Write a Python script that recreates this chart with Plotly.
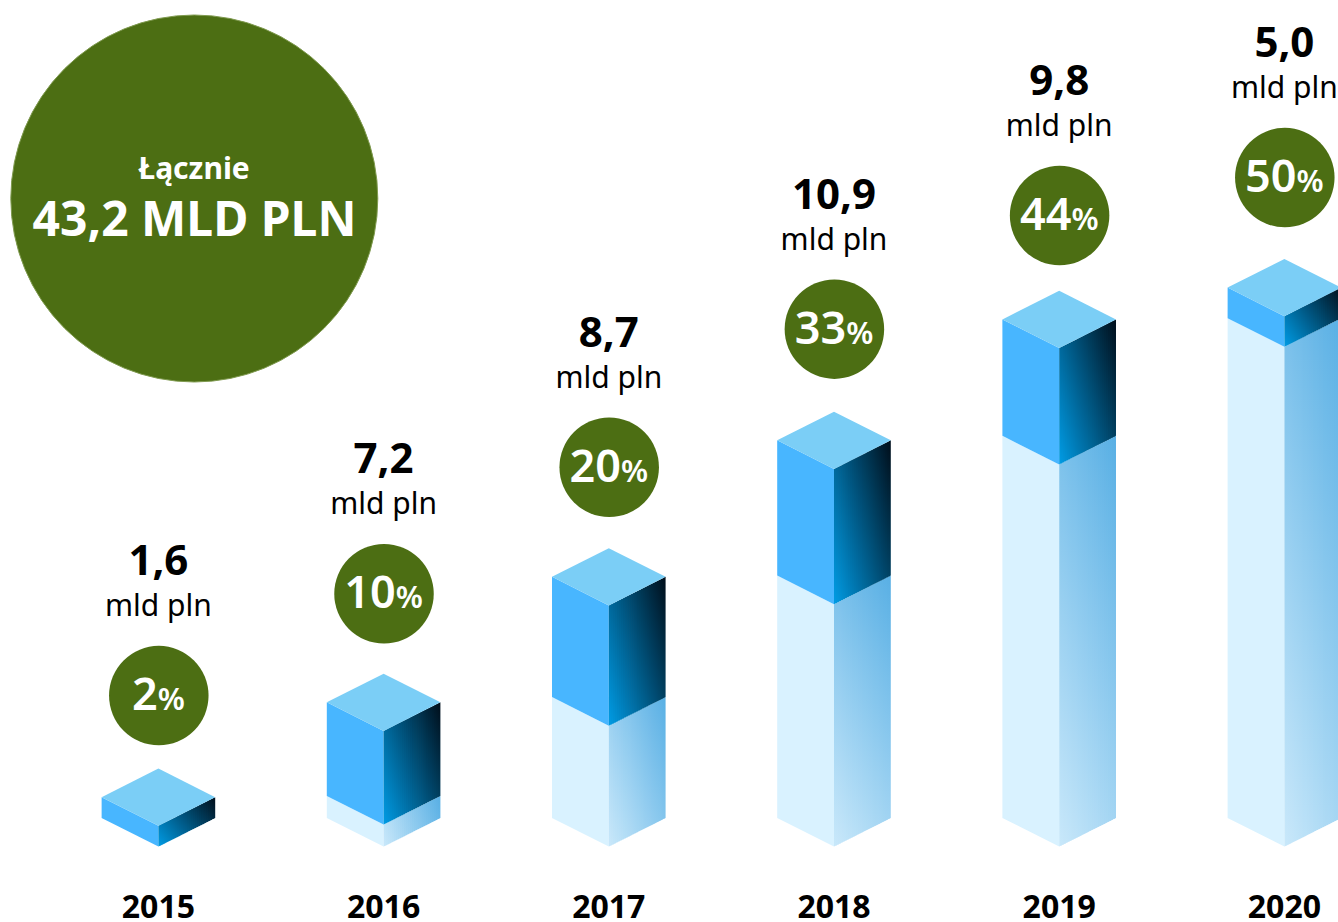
import plotly.graph_objects as go

# ---- data ----
years = [2015, 2016, 2017, 2018, 2019, 2020]
amount_labels = ["1,6", "7,2", "8,7", "10,9", "9,8", "5,0"]
share_labels = ["2", "10", "20", "33", "44", "50"]
unit_label = "mld pln"
total_title = "Łącznie"
total_label = "43,2 MLD PLN"
# drawn segment limits (in bar-height units)
bar_base = [0.0, 1.7, 9.3, 18.65, 29.4, 38.45]
bar_top = [1.6, 8.9, 18.55, 29.05, 38.35, 40.8]

# ---- layout constants ----
W, H = 1338, 922
PX_PER_YEAR = 225.2
PX_PER_UNIT = 13.0
X0_PX, FLOOR_PX = 158.4, 846.6
HALF_W = 56.8 / PX_PER_YEAR
DEPTH = 28.6 / PX_PER_UNIT
BUBBLE_LIFT_PX = [73, 80, 81, 82.6, 75.3, 81.4]
FONT = "Noto Sans"
GREEN = "#4C6E13"


def data_x(px):
    return years[0] + (px - X0_PX) / PX_PER_YEAR


def data_y(py):
    return (FLOOR_PX - py) / PX_PER_UNIT


def mix(a, b, t):
    t = max(0, min(1, t))
    return "rgb(%d,%d,%d)" % tuple(round(a[i] + (b[i] - a[i]) * t) for i in range(3))


fig = go.Figure()


def poly(xs, ys, color):
    fig.add_trace(go.Scatter(x=xs + xs[:1], y=ys + ys[:1], mode="lines", fill="toself",
                             fillcolor=color, line=dict(width=0, color=color),
                             hoverinfo="skip", showlegend=False))


def right_face(x, lo, hi, c0, c1, a=0.58, n=28):
    """Diagonal gradient built from narrow strips with a vertical gradient each."""
    y_min, y_max = lo, hi + DEPTH
    for i in range(n):
        u0 = i / n
        u1 = (i + 1) / n
        um = (u0 + u1) / 2
        ext = min(1, u1 + 0.4 / n)
        xa = x + HALF_W * u0
        xb = x + HALF_W * ext
        ca = mix(c0, c1, a * um)
        cb = mix(c0, c1, a * um + (1 - a))
        fig.add_trace(go.Scatter(
            x=[xa, xb, xb, xa, xa],
            y=[lo + DEPTH * u0, lo + DEPTH * ext, hi + DEPTH * ext, hi + DEPTH * u0, lo + DEPTH * u0],
            mode="lines", fill="toself", line=dict(width=0),
            fillgradient=dict(type="vertical", start=y_min, stop=y_max,
                              colorscale=[[0, ca], [1, cb]]),
            hoverinfo="skip", showlegend=False))


for i, yr in enumerate(years):
    base, top = bar_base[i], bar_top[i]
    xl, xr = yr - HALF_W, yr + HALF_W
    if base > 0:
        poly([xl, yr, yr, xl], [DEPTH, 0, base, base + DEPTH], "#D9F2FF")
        lean = max(0.3, 0.85 - base * PX_PER_UNIT / 400)
        right_face(yr, 0, base, (201, 232, 250), (88, 175, 228), a=lean)
    poly([xl, yr, yr, xl], [base + DEPTH, base, top, top + DEPTH], "#48B6FF")
    right_face(yr, base, top, (0, 155, 228), (0, 14, 26))
    poly([xl, yr, xr, yr], [top + DEPTH, top, top + DEPTH, top + 2 * DEPTH], "#7BCEF6")

# bubbles above each bar
bubble_y = [bar_top[i] + 2 * DEPTH + BUBBLE_LIFT_PX[i] / PX_PER_UNIT for i in range(len(years))]
fig.add_trace(go.Scatter(x=[y + 0.4 / PX_PER_YEAR for y in years], y=bubble_y, mode="markers",
                         marker=dict(size=99.5, color=GREEN, line=dict(width=0)),
                         hoverinfo="skip", showlegend=False))


def text(xs, ys, labels, size, color, weight=400):
    fig.add_trace(go.Scatter(x=xs, y=ys, mode="text", text=labels, textposition="middle center",
                             textfont=dict(family=FONT, size=size, color=color, weight=weight),
                             cliponaxis=False, hoverinfo="skip", showlegend=False))


text(years, [b - 3.5 / PX_PER_UNIT for b in bubble_y],
     [f'{s}<span style="font-size:31px">%</span>' for s in share_labels],
     45, "white", 600)
text(years, [b + 131 / PX_PER_UNIT for b in bubble_y], amount_labels, 42, "#000000", 700)
text(years, [b + 87 / PX_PER_UNIT for b in bubble_y], [unit_label] * 6, 30, "#000000", 400)
text(years, [data_y(910)] * 6, [str(y) for y in years], 32, "#000000", 700)

# total circle
fig.add_trace(go.Scatter(x=[data_x(194.3)], y=[data_y(198.5)], mode="markers",
                         marker=dict(size=367, color=GREEN, line=dict(width=1, color="#7F9A4F")),
                         hoverinfo="skip", showlegend=False))
text([data_x(194)], [data_y(171)], [total_title], 30, "white", 700)
text([data_x(194.5)], [data_y(224)], [total_label], 48, "white", 700)

fig.update_layout(
    width=W, height=H, margin=dict(l=0, r=0, t=0, b=0),
    paper_bgcolor="white", plot_bgcolor="white", showlegend=False,
    xaxis=dict(range=[data_x(0), data_x(W)], visible=False, fixedrange=True),
    yaxis=dict(range=[data_y(H), data_y(0)], visible=False, fixedrange=True),
)
fig.write_html("out.html", config=dict(displayModeBar=False),
               post_script="document.body.style.margin='0';")
